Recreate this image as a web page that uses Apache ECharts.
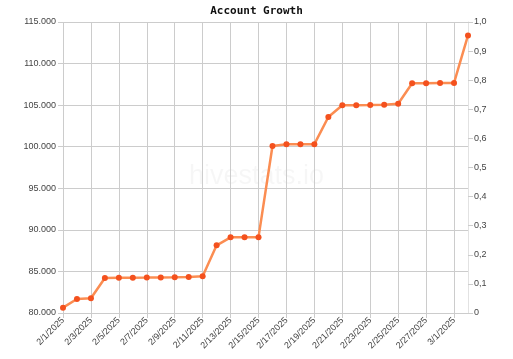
<!DOCTYPE html>
<html>
<head>
<meta charset="utf-8">
<script src="https://cdn.jsdelivr.net/npm/echarts@6/dist/echarts.min.js"></script>
<style>html,body{margin:0;padding:0;background:#fff}#c{width:513px;height:359px}</style>
</head>
<body>
<div id="c"></div>
<script>
const categories = ["2/1/2025","2/2/2025","2/3/2025","2/4/2025","2/5/2025","2/6/2025","2/7/2025","2/8/2025","2/9/2025","2/10/2025","2/11/2025","2/12/2025","2/13/2025","2/14/2025","2/15/2025","2/16/2025","2/17/2025","2/18/2025","2/19/2025","2/20/2025","2/21/2025","2/22/2025","2/23/2025","2/24/2025","2/25/2025","2/26/2025","2/27/2025","2/28/2025","3/1/2025","3/2/2025"];
const accountValues = [80640,81680,81770,84210,84230,84250,84260,84280,84300,84340,84410,88140,89100,89110,89120,100090,100290,100300,100310,103570,104980,104990,105020,105060,105170,107630,107640,107660,107670,113380];
const leftTicks = {min: 80000, max: 115000, interval: 5000};
const rightTicks = {min: 0, max: 1, interval: 0.1};
const thirdTicks = {min: 0, max: 25, interval: 5};

function thousands(v){
  return String(Math.round(v)).replace(/\B(?=(\d{3})+(?!\d))/g, '.');
}
const labelFont = {fontFamily: 'Liberation Sans, Arial, sans-serif', fontSize: 9, color: '#444'};

const chart = echarts.init(document.getElementById('c'), null, {renderer: 'canvas'});
chart.setOption({
  animation: false,
  title: {
    text: 'Account Growth', left: 'center', top: 1,
    textStyle: {fontFamily: 'DejaVu Sans Mono, monospace', fontWeight: 'bold', fontSize: 11, color: '#111'}
  },
  graphic: [{
    type: 'text', left: 'center', top: 163, silent: true, z: 0,
    style: {text: 'hivestats.io', font: '27px "Liberation Sans", Arial, sans-serif', fill: 'rgba(0,0,0,0.035)'}
  }],
  grid: {left: 63, right: 45, top: 22, bottom: 46, containLabel: false, outerBoundsMode: 'none'},
  xAxis: {
    type: 'category', data: categories, boundaryGap: false,
    axisLine: {show: true, lineStyle: {color: '#ccc'}},
    axisTick: {show: true, length: 5, interval: 1, lineStyle: {color: '#ccc'}},
    axisLabel: Object.assign({interval: 1, rotate: 45, margin: 6}, labelFont),
    splitLine: {show: true, interval: 1, lineStyle: {color: '#ccc', width: 1}}
  },
  yAxis: [{
    type: 'value', position: 'left', min: leftTicks.min, max: leftTicks.max, interval: leftTicks.interval,
    axisLine: {show: false},
    axisTick: {show: true, length: 5, lineStyle: {color: '#ccc'}},
    axisLabel: Object.assign({margin: 7, formatter: thousands}, labelFont),
    splitLine: {show: true, lineStyle: {color: '#ccc', width: 1}}
  }, {
    type: 'value', position: 'right', min: rightTicks.min, max: rightTicks.max, interval: rightTicks.interval,
    axisLine: {show: true, lineStyle: {color: '#e2e2e2'}},
    axisTick: {show: true, length: 5, lineStyle: {color: '#ccc'}},
    axisLabel: Object.assign({margin: 6, formatter: v => v === 0 ? '0' : v.toFixed(1).replace('.', ',')}, labelFont),
    splitLine: {show: false}
  }, {
    type: 'value', position: 'right', offset: 39, min: thirdTicks.min, max: thirdTicks.max, interval: thirdTicks.interval,
    axisLine: {show: false}, axisTick: {show: false},
    axisLabel: Object.assign({margin: 6, formatter: v => v >= 10 ? String(v) : ''}, labelFont),
    splitLine: {show: false}
  }],
  series: [{
    type: 'line', data: accountValues, yAxisIndex: 0,
    symbol: 'circle', symbolSize: 6, showSymbol: true,
    lineStyle: {color: '#fb8d52', width: 2.5},
    itemStyle: {color: '#f4511e'},
    z: 3
  }]
});
</script>
</body>
</html>
